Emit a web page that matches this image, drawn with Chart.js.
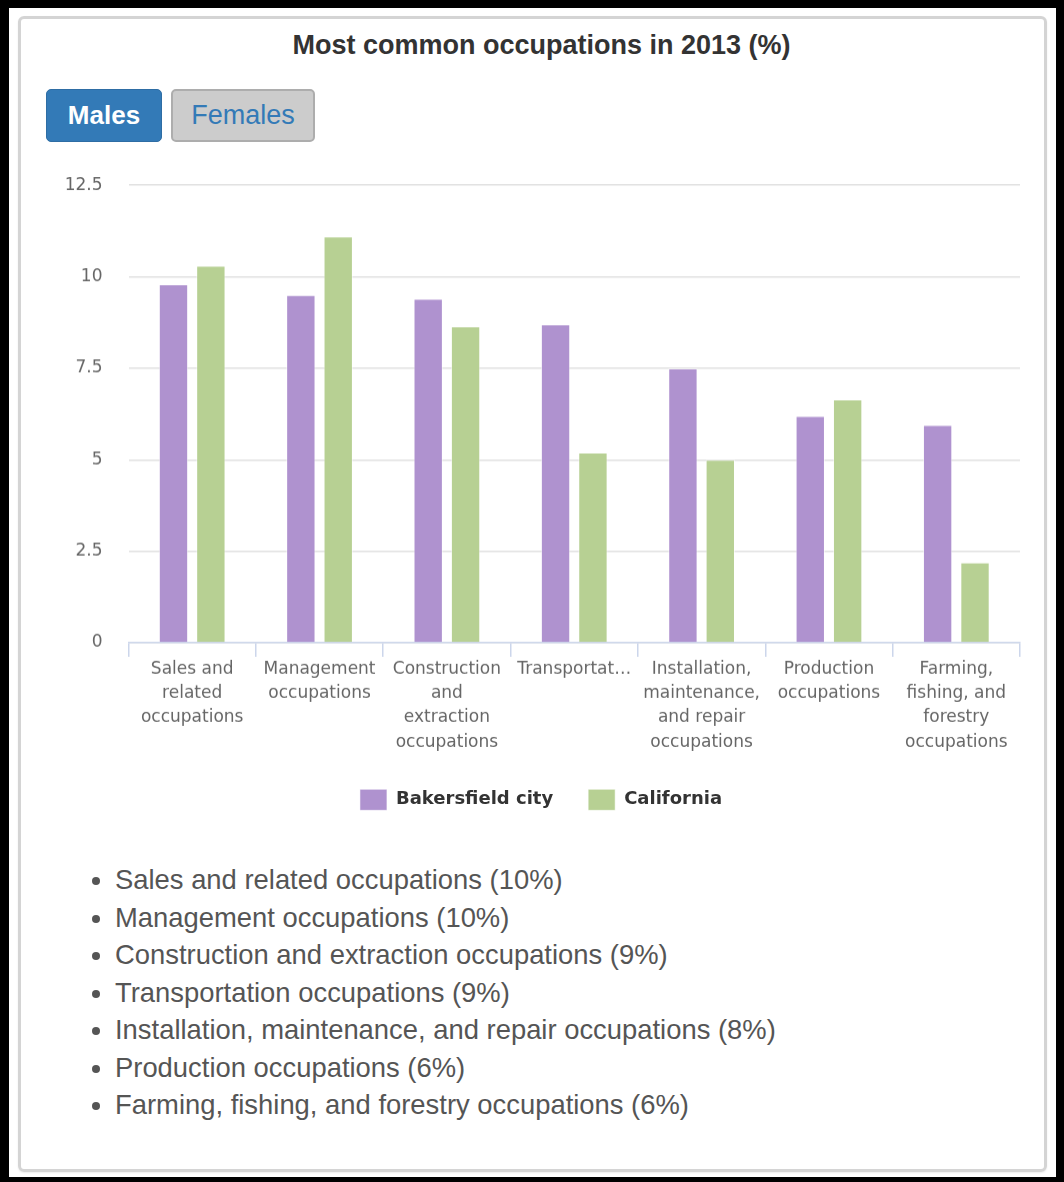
<!DOCTYPE html>
<html>
<head>
<meta charset="utf-8">
<script src="https://cdn.jsdelivr.net/npm/chart.js@4/dist/chart.umd.min.js"></script>
<style>
  html, body { margin: 0; padding: 0; background: #fff; }
  #frame { position: absolute; left: 0; top: 0; width: 1064px; height: 1182px; box-sizing: border-box;
           border-style: solid; border-color: #000; border-width: 8px 8px 5px 9px; background: #fff; }
  #panel { position: absolute; left: 18px; top: 16px; width: 1029px; height: 1156px; box-sizing: border-box;
           border: 3px solid #d4d4d4; border-radius: 6px; box-shadow: 0 1px 2px rgba(0,0,0,0.08); }
  #title { position: absolute; left: 0; top: 32px; width: 1083px; text-align: center;
           font: bold 27px "Liberation Sans", Arial, sans-serif; line-height: 27px; color: #333; }
  .btn { position: absolute; top: 89px; height: 53px; box-sizing: border-box; border-radius: 5px;
         display: flex; align-items: center; justify-content: center; font-family: "Liberation Sans", Arial, sans-serif; font-size: 26px; }
  #males { left: 46px; width: 116px; background: #337ab7; color: #fff; font-weight: bold; border: 1px solid #2e6da4; }
  #females { left: 171px; width: 144px; background: #cccccc; color: #337ab7; border: 2px solid #adadad; font-size: 27px; }
  #chartWrap { position: absolute; left: 0; top: 149.4px; width: 1064px; height: 670.3px; }
  #list { position: absolute; left: 0; top: 861px; margin: 0; padding: 0 0 0 115px;
          font: 27.4px "Liberation Sans", Arial, sans-serif; line-height: 37.5px; color: #555; }
  #list li { padding-left: 0; }
</style>
</head>
<body>
<div id="frame"></div>
<div id="panel"></div>
<div id="title">Most common occupations in 2013 (%)</div>
<div class="btn" id="males">Males</div>
<div class="btn" id="females">Females</div>
<div id="chartWrap"><canvas id="chart"></canvas></div>
<ul id="list"></ul>
<script>
const categories = [
  "Sales and related occupations",
  "Management occupations",
  "Construction and extraction occupations",
  "Transportation occupations",
  "Installation, maintenance, and repair occupations",
  "Production occupations",
  "Farming, fishing, and forestry occupations"
];
const tickLabels = [
  ["Sales and", "related", "occupations"],
  ["Management", "occupations"],
  ["Construction", "and", "extraction", "occupations"],
  ["Transportat\u2026"],
  ["Installation,", "maintenance,", "and repair", "occupations"],
  ["Production", "occupations"],
  ["Farming,", "fishing, and", "forestry", "occupations"]
];
const seriesNames = ["Bakersfield city", "California"];
const bakersfield = [9.8, 9.5, 9.4, 8.7, 7.5, 6.2, 5.95];
const california = [10.3, 11.1, 8.65, 5.2, 5.0, 6.65, 2.2];
const yTickValues = [0, 2.5, 5, 7.5, 10, 12.5];
const listPercents = [10, 10, 9, 9, 8, 6, 6];

const list = document.getElementById('list');
categories.forEach((c, i) => {
  const li = document.createElement('li');
  li.textContent = c + ' (' + listPercents[i] + '%)';
  list.appendChild(li);
});

const axisFont = { family: "'DejaVu Sans', Verdana, sans-serif", size: 17, lineHeight: 1.43 };

new Chart(document.getElementById('chart'), {
  type: 'bar',
  data: {
    labels: tickLabels,
    datasets: [
      { label: seriesNames[0], data: bakersfield, backgroundColor: '#af92cf', borderColor: 'rgba(255,255,255,0.55)', borderWidth: 1,
        categoryPercentage: 0.587, barPercentage: 0.786 },
      { label: seriesNames[1], data: california, backgroundColor: '#b7d093', borderColor: 'rgba(255,255,255,0.55)', borderWidth: 1,
        categoryPercentage: 0.587, barPercentage: 0.786 }
    ]
  },
  options: {
    responsive: true,
    maintainAspectRatio: false,
    animation: false,
    layout: { padding: { left: 62, right: 44, top: 0, bottom: 0 } },
    plugins: {
      legend: {
        position: 'bottom',
        labels: {
          boxWidth: 27, boxHeight: 21, padding: 35,
          color: '#333',
          font: { family: "'DejaVu Sans', Verdana, sans-serif", size: 18, weight: 'bold' }
        }
      },
      tooltip: { enabled: false }
    },
    scales: {
      x: {
        grid: { offset: true, drawOnChartArea: false, drawTicks: true, tickLength: 14, color: '#ccd6eb', lineWidth: 1.5 },
        border: { display: true, color: '#ccd6eb', width: 1.5 },
        ticks: { color: '#666', font: axisFont, padding: 0, maxRotation: 0, minRotation: 0, autoSkip: false }
      },
      y: {
        min: 0, max: 12.5,
        afterBuildTicks: (axis) => { axis.ticks = yTickValues.map(v => ({ value: v })); },
        afterFit: (axis) => { axis.width = 66.5; },
        grid: { color: '#e0e0e0', lineWidth: 1.5, drawTicks: false },
        border: { display: false },
        ticks: { color: '#666', font: { family: "'DejaVu Sans', Verdana, sans-serif", size: 17 }, padding: 26,
                 callback: (v) => String(v) }
      }
    }
  }
});
</script>
</body>
</html>
